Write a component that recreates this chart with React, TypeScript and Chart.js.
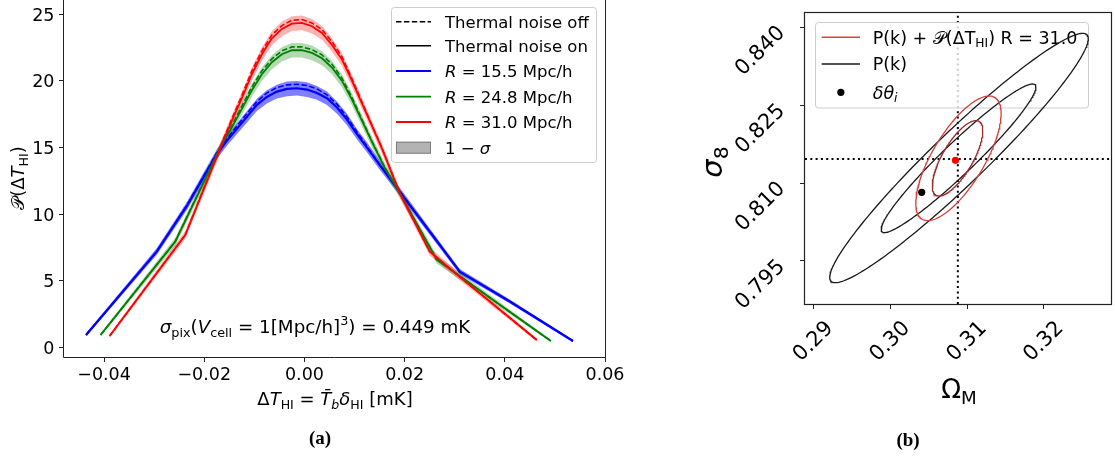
import React, { useEffect, useRef } from "react";
import { Chart, registerables } from "chart.js";

Chart.register(...registerables);

const FAM = '"DejaVu Sans", sans-serif';

// ---------------- Panel (a) data ----------------
const A_X_TICKS = [-0.04, -0.02, 0, 0.02, 0.04, 0.06];
const A_X_TICK_LABELS = ["−0.04", "−0.02", "0.00", "0.02", "0.04", "0.06"];
const A_Y_TICKS = [0, 5, 10, 15, 20, 25];
const A_Y_TICK_LABELS = ["0", "5", "10", "15", "20", "25"];
const A_X_MIN = -0.048;
const A_X_MAX = 0.06;
const A_Y_MIN = -0.7125;
const A_Y_MAX = 26.07;

// R = 15.5 Mpc/h
const R155_X = [-0.0436, -0.0295, -0.0235, -0.0175, -0.0155, -0.0135, -0.0115, -0.0095, -0.0075, -0.0055, -0.0035, -0.0015, 0.0005, 0.0025, 0.0045, 0.0065, 0.0085, 0.0105, 0.0125, 0.015, 0.019, 0.025, 0.031, 0.041, 0.0536];
const R155_ON = [0.94, 7.19, 10.6, 14.5, 15.5, 16.4, 17.3, 18.2, 18.8, 19.2, 19.4, 19.45, 19.35, 19.1, 18.7, 18.0, 17.1, 16.0, 15.0, 13.7, 11.7, 8.7, 5.69, 3.45, 0.49];
const R155_OFF = [0.94, 7.2, 10.65, 14.6, 15.65, 16.6, 17.55, 18.45, 19.1, 19.5, 19.7, 19.75, 19.65, 19.4, 18.95, 18.25, 17.3, 16.15, 15.1, 13.75, 11.75, 8.7, 5.7, 3.45, 0.49];
const R155_SIG = [0.12, 0.25, 0.3, 0.35, 0.38, 0.4, 0.43, 0.46, 0.5, 0.52, 0.55, 0.55, 0.55, 0.52, 0.5, 0.46, 0.43, 0.4, 0.38, 0.35, 0.3, 0.25, 0.2, 0.15, 0.1];

// R = 24.8 Mpc/h
const R248_X = [-0.0407, -0.0258, -0.0165, -0.0145, -0.0125, -0.0105, -0.0085, -0.0065, -0.0045, -0.0025, -0.0005, 0.0015, 0.0035, 0.0055, 0.0075, 0.0095, 0.0115, 0.0135, 0.016, 0.019, 0.0264, 0.039, 0.0492];
const R248_ON = [0.94, 7.94, 15.2, 16.5, 17.9, 19.3, 20.5, 21.4, 22.0, 22.3, 22.3, 22.1, 21.7, 21.0, 20.0, 18.6, 17.0, 15.4, 13.5, 11.6, 6.6, 3.2, 0.49];
const R248_OFF = [0.94, 7.95, 15.3, 16.65, 18.1, 19.55, 20.75, 21.65, 22.25, 22.55, 22.55, 22.35, 21.95, 21.25, 20.2, 18.75, 17.1, 15.45, 13.55, 11.6, 6.6, 3.2, 0.49];
const R248_SIG = [0.12, 0.3, 0.4, 0.42, 0.45, 0.48, 0.5, 0.52, 0.55, 0.55, 0.55, 0.55, 0.52, 0.5, 0.48, 0.45, 0.42, 0.4, 0.38, 0.35, 0.3, 0.2, 0.1];

// R = 31.0 Mpc/h
const R310_X = [-0.0389, -0.0238, -0.0162, -0.0145, -0.0125, -0.0105, -0.0085, -0.0065, -0.0045, -0.0025, -0.0005, 0.0015, 0.0035, 0.0055, 0.0075, 0.0095, 0.0115, 0.0135, 0.0155, 0.019, 0.025, 0.031, 0.0464];
const R310_ON = [0.86, 8.44, 15.5, 17.0, 18.7, 20.5, 22.0, 23.2, 23.9, 24.3, 24.35, 24.1, 23.6, 22.7, 21.6, 20.0, 18.3, 16.6, 14.9, 11.6, 7.2, 5.3, 0.56];
const R310_OFF = [0.86, 8.45, 15.6, 17.15, 18.9, 20.75, 22.25, 23.45, 24.15, 24.55, 24.6, 24.35, 23.85, 22.95, 21.8, 20.15, 18.4, 16.65, 14.95, 11.6, 7.2, 5.3, 0.56];
const R310_SIG = [0.12, 0.3, 0.4, 0.42, 0.45, 0.48, 0.5, 0.52, 0.55, 0.55, 0.55, 0.55, 0.52, 0.5, 0.48, 0.45, 0.42, 0.4, 0.38, 0.35, 0.3, 0.25, 0.12];

const A_LEGEND_LABELS = ["Thermal noise off", "Thermal noise on", "15.5 Mpc/h", "24.8 Mpc/h", "31.0 Mpc/h"];

// ---------------- Panel (b) data ----------------
const B_X_TICKS = [0.29, 0.3, 0.31, 0.32];
const B_X_TICK_LABELS = ["0.29", "0.30", "0.31", "0.32"];
const B_Y_TICKS = [0.795, 0.81, 0.825, 0.84];
const B_Y_TICK_LABELS = ["0.795", "0.810", "0.825", "0.840"];
const B_X_MIN = 0.28889;
const B_X_MAX = 0.32875;
const B_Y_MIN = 0.7867;
const B_Y_MAX = 0.84274;

const FIDUCIAL_OM = 0.3088;
const FIDUCIAL_S8 = 0.8146;
// Forecast contours: P(k) 2σ, P(k) 1σ, P(k)+𝒫 2σ, P(k)+𝒫 1σ
const ELL_CX = [0.30895, 0.30889, 0.30888, 0.30876];
const ELL_CY = [0.81481, 0.81476, 0.81476, 0.81476];
const ELL_HALF_W = [0.01684, 0.01008, 0.00556, 0.00329];
const ELL_HALF_H = [0.02401, 0.01431, 0.012, 0.00726];
const ELL_RHO = [0.957, 0.957, 0.72, 0.73];
const POINT_COMBINED = [0.30849, 0.81437];
const POINT_SHIFT = [0.30409, 0.80821];

// ---------------- helpers ----------------
type Seg = { t: string; it?: boolean; sub?: boolean; sup?: boolean; fam?: string; bold?: boolean };

function segFont(s: Seg, size: number, fam: string) {
  const sz = s.sub || s.sup ? size * 0.7 : size;
  return `${s.it ? "italic " : ""}${s.bold ? "bold " : ""}${sz}px ${s.fam || fam}`;
}
function richWidth(ctx: CanvasRenderingContext2D, segs: Seg[], size: number, fam: string) {
  let w = 0;
  for (const s of segs) {
    ctx.font = segFont(s, size, fam);
    w += ctx.measureText(s.t).width;
  }
  return w;
}
function drawRich(
  ctx: CanvasRenderingContext2D,
  segs: Seg[],
  x: number,
  y: number,
  size: number,
  align: "left" | "center" | "right",
  color = "#000",
  fam = FAM
) {
  const w = richWidth(ctx, segs, size, fam);
  let cx = align === "left" ? x : align === "center" ? x - w / 2 : x - w;
  ctx.textAlign = "left";
  ctx.textBaseline = "alphabetic";
  ctx.fillStyle = color;
  for (const s of segs) {
    ctx.font = segFont(s, size, fam);
    const dy = s.sub ? size * 0.22 : s.sup ? -size * 0.42 : 0;
    ctx.fillText(s.t, cx, y + dy);
    cx += ctx.measureText(s.t).width;
  }
}
function roundBox(ctx: CanvasRenderingContext2D, x0: number, y0: number, x1: number, y1: number, r: number) {
  ctx.beginPath();
  ctx.moveTo(x0 + r, y0);
  ctx.lineTo(x1 - r, y0);
  ctx.quadraticCurveTo(x1, y0, x1, y0 + r);
  ctx.lineTo(x1, y1 - r);
  ctx.quadraticCurveTo(x1, y1, x1 - r, y1);
  ctx.lineTo(x0 + r, y1);
  ctx.quadraticCurveTo(x0, y1, x0, y1 - r);
  ctx.lineTo(x0, y0 + r);
  ctx.quadraticCurveTo(x0, y0, x0 + r, y0);
  ctx.closePath();
}
function zip(xs: number[], ys: number[]) {
  return xs.map((x, i) => ({ x, y: ys[i] }));
}
function band(xs: number[], ys: number[], sig: number[], sign: number) {
  return xs.map((x, i) => ({ x, y: ys[i] + sign * sig[i] }));
}

// ---------------- Panel (a) ----------------
const SERIES_A = [
  { x: R155_X, on: R155_ON, off: R155_OFF, sig: R155_SIG, color: "#0000ff", fillC: "rgba(0,0,255,0.5)", lw: 2.2 },
  { x: R248_X, on: R248_ON, off: R248_OFF, sig: R248_SIG, color: "#008000", fillC: "rgba(0,128,0,0.3)", lw: 1.8 },
  { x: R310_X, on: R310_ON, off: R310_OFF, sig: R310_SIG, color: "#ff0000", fillC: "rgba(255,0,0,0.3)", lw: 1.8 },
];

function PanelA() {
  const ref = useRef<HTMLCanvasElement>(null);
  useEffect(() => {
    const datasets: any[] = [];
    SERIES_A.forEach((s, k) => {
      datasets.push({
        data: band(s.x, s.on, s.sig, 1),
        fill: "+1",
        backgroundColor: s.fillC,
        borderWidth: 0,
        pointRadius: 0,
        order: 100 - k * 2,
      });
      datasets.push({
        data: band(s.x, s.on, s.sig, -1),
        fill: false,
        borderWidth: 0,
        pointRadius: 0,
        order: 99 - k * 2,
      });
      datasets.push({
        data: zip(s.x, s.off),
        borderColor: s.color,
        borderWidth: 1.6,
        borderDash: [5.5, 2.4],
        pointRadius: 0,
        fill: false,
        order: 50 - k * 2,
      });
      datasets.push({
        data: zip(s.x, s.on),
        borderColor: s.color,
        borderWidth: s.lw,
        pointRadius: 0,
        fill: false,
        order: 49 - k * 2,
      });
    });

    const decor = {
      id: "decorA",
      afterDraw(chart: any) {
        const ctx: CanvasRenderingContext2D = chart.ctx;
        const { left, right, top, bottom } = chart.chartArea;
        const xs = chart.scales.x;
        const ys = chart.scales.y;
        ctx.save();
        ctx.strokeStyle = "#222";
        ctx.lineWidth = 1;
        ctx.beginPath();
        ctx.moveTo(left - 0.5, top);
        ctx.lineTo(left - 0.5, bottom + 0.5);
        ctx.lineTo(right + 0.5, bottom + 0.5);
        ctx.lineTo(right + 0.5, top);
        ctx.stroke();

        // tick labels
        ctx.fillStyle = "#000";
        ctx.font = `17.5px ${FAM}`;
        ctx.textAlign = "right";
        ctx.textBaseline = "alphabetic";
        A_Y_TICKS.forEach((v, i) => {
          ctx.fillText(A_Y_TICK_LABELS[i], 54.5, ys.getPixelForValue(v) + 6.3);
        });
        ctx.textAlign = "center";
        A_X_TICKS.forEach((v, i) => {
          ctx.fillText(A_X_TICK_LABELS[i], xs.getPixelForValue(v), 380);
        });

        // axis labels
        drawRich(
          ctx,
          [{ t: "Δ" }, { t: "T", it: true }, { t: "HI", sub: true }, { t: " = " }, { t: "T\u0304", it: true }, { t: "b", it: true, sub: true }, { t: "δ", it: true }, { t: "HI", sub: true }, { t: " [mK]" }],
          335,
          405,
          18,
          "center"
        );
        ctx.save();
        ctx.translate(24, 178);
        ctx.rotate(-Math.PI / 2);
        drawRich(ctx, [{ t: "𝒫" }, { t: "(Δ" }, { t: "T", it: true }, { t: "HI", sub: true }, { t: ")" }], 0, 0, 18, "center");
        ctx.restore();

        // annotation
        drawRich(
          ctx,
          [{ t: "σ", it: true }, { t: "pix", sub: true }, { t: "(" }, { t: "V", it: true }, { t: "cell", sub: true }, { t: " = 1[Mpc/h]" }, { t: "3", sup: true }, { t: ") = 0.449 mK" }],
          315,
          333,
          18.3,
          "center"
        );

        // legend
        roundBox(ctx, 391.5, 7.5, 596.5, 162.5, 3);
        ctx.fillStyle = "rgba(255,255,255,0.8)";
        ctx.fill();
        ctx.strokeStyle = "#cccccc";
        ctx.lineWidth = 1;
        ctx.stroke();
        const rows = [21.7, 45.7, 71, 96.7, 122, 147.7];
        const hx0 = 396;
        const hx1 = 431;
        const tx = 445;
        const fs = 16.5;
        ctx.strokeStyle = "#000";
        ctx.lineWidth = 1.6;
        ctx.setLineDash([5.5, 2.4]);
        ctx.beginPath();
        ctx.moveTo(hx0, rows[0]);
        ctx.lineTo(hx1, rows[0]);
        ctx.stroke();
        ctx.setLineDash([]);
        ctx.beginPath();
        ctx.moveTo(hx0, rows[1]);
        ctx.lineTo(hx1, rows[1]);
        ctx.stroke();
        drawRich(ctx, [{ t: A_LEGEND_LABELS[0] }], tx, rows[0] + 6, fs, "left");
        drawRich(ctx, [{ t: A_LEGEND_LABELS[1] }], tx, rows[1] + 6, fs, "left");
        SERIES_A.forEach((s, k) => {
          const y = rows[2 + k];
          ctx.strokeStyle = s.color;
          ctx.lineWidth = s.lw;
          ctx.beginPath();
          ctx.moveTo(hx0, y);
          ctx.lineTo(hx1, y);
          ctx.stroke();
          drawRich(ctx, [{ t: "R", it: true }, { t: " = " + A_LEGEND_LABELS[2 + k] }], tx, y + 6, fs, "left");
        });
        ctx.fillStyle = "rgba(128,128,128,0.6)";
        ctx.fillRect(hx0, rows[5] - 6, hx1 - hx0, 12);
        ctx.strokeStyle = "rgba(100,100,100,0.7)";
        ctx.lineWidth = 1;
        ctx.strokeRect(hx0 + 0.5, rows[5] - 5.5, hx1 - hx0 - 1, 11);
        drawRich(ctx, [{ t: "1 − " }, { t: "σ", it: true }], tx, rows[5] + 6, fs, "left");

        // caption
        drawRich(ctx, [{ t: "(a)", bold: true }], 320, 444, 19, "center", "#000", '"Liberation Serif", serif');
        ctx.restore();
      },
    };

    const chart = new Chart(ref.current as HTMLCanvasElement, {
      type: "line",
      data: { datasets },
      options: {
        responsive: false,
        maintainAspectRatio: false,
        devicePixelRatio: 1,
        animation: false,
        events: [],
        layout: { padding: { left: 0, right: 35, top: 0, bottom: 0 } },
        plugins: { legend: { display: false }, tooltip: { enabled: false } },
        elements: { line: { tension: 0 } },
        scales: {
          x: {
            type: "linear",
            min: A_X_MIN,
            max: A_X_MAX,
            ticks: { display: false },
            grid: { display: true, drawOnChartArea: false, drawTicks: true, tickLength: 5, color: "#222", lineWidth: 1 },
            border: { display: false },
            afterBuildTicks: (s: any) => {
              s.ticks = A_X_TICKS.map((v) => ({ value: v }));
            },
            afterFit: (s: any) => {
              s.height = 103;
              s.paddingLeft = 0;
              s.paddingRight = 0;
            },
          },
          y: {
            type: "linear",
            min: A_Y_MIN,
            max: A_Y_MAX,
            ticks: { display: false },
            grid: { display: true, drawOnChartArea: false, drawTicks: true, tickLength: 5, color: "#222", lineWidth: 1 },
            border: { display: false },
            afterBuildTicks: (s: any) => {
              s.ticks = A_Y_TICKS.map((v) => ({ value: v }));
            },
            afterFit: (s: any) => {
              s.width = 64;
              s.paddingTop = 0;
              s.paddingBottom = 0;
            },
          },
        },
      } as any,
      plugins: [decor],
    });
    return () => chart.destroy();
  }, []);
  return <canvas ref={ref} width={640} height={460} style={{ position: "absolute", left: 0, top: 0, width: 640, height: 460 }} />;
}

// ---------------- Panel (b) ----------------
const ELL_STYLE = [
  { color: "#1a1a1a", lw: 1.3 },
  { color: "#1a1a1a", lw: 1.3 },
  { color: "#d6403c", lw: 1.3 },
  { color: "#9a2b2b", lw: 1.3 },
];

function ellipsePoints(i: number) {
  const pts: { x: number; y: number }[] = [];
  const n = 240;
  const s = Math.sqrt(1 - ELL_RHO[i] * ELL_RHO[i]);
  for (let k = 0; k <= n; k++) {
    const t = (2 * Math.PI * k) / n;
    pts.push({
      x: ELL_CX[i] + ELL_HALF_W[i] * Math.cos(t),
      y: ELL_CY[i] + ELL_HALF_H[i] * (ELL_RHO[i] * Math.cos(t) + s * Math.sin(t)),
    });
  }
  return pts;
}

function PanelB() {
  const ref = useRef<HTMLCanvasElement>(null);
  useEffect(() => {
    const datasets: any[] = [
      {
        label: "vline",
        data: [
          { x: FIDUCIAL_OM, y: B_Y_MIN },
          { x: FIDUCIAL_OM, y: B_Y_MAX },
        ],
        showLine: true,
        borderColor: "#000",
        borderWidth: 2,
        borderDash: [2, 3.3],
        pointRadius: 0,
        order: 20,
      },
      {
        label: "hline",
        data: [
          { x: B_X_MIN, y: FIDUCIAL_S8 },
          { x: B_X_MAX, y: FIDUCIAL_S8 },
        ],
        showLine: true,
        borderColor: "#000",
        borderWidth: 2,
        borderDash: [2, 3.3],
        pointRadius: 0,
        order: 19,
      },
    ];
    ELL_CX.forEach((_, i) => {
      datasets.push({
        label: "ell" + i,
        data: ellipsePoints(i),
        showLine: true,
        borderColor: ELL_STYLE[i].color,
        borderWidth: ELL_STYLE[i].lw,
        pointRadius: 0,
        order: 10 - i,
      });
    });
    datasets.push({
      label: "shift",
      data: [{ x: POINT_SHIFT[0], y: POINT_SHIFT[1] }],
      pointRadius: 3.6,
      backgroundColor: "#000",
      borderWidth: 0,
      order: 2,
    });
    datasets.push({
      label: "combined",
      data: [{ x: POINT_COMBINED[0], y: POINT_COMBINED[1] }],
      pointRadius: 3.6,
      backgroundColor: "#ff0000",
      borderWidth: 0,
      order: 1,
    });

    const decor = {
      id: "decorB",
      afterDatasetDraw(chart: any, args: any) {
        if (chart.data.datasets[args.index].label !== "hline") return;
        const ctx: CanvasRenderingContext2D = chart.ctx;
        ctx.save();
        const ox = -700;
        roundBox(ctx, 815.5 + ox, 22.5, 1088.5 + ox, 108, 3);
        ctx.fillStyle = "rgba(255,255,255,0.8)";
        ctx.fill();
        ctx.strokeStyle = "#cccccc";
        ctx.lineWidth = 1;
        ctx.stroke();
        const rows = [37.3, 64, 92.3];
        const hx0 = 821.7 + ox;
        const hx1 = 860 + ox;
        const tx = 872.7 + ox;
        const fs = 17.5;
        ctx.strokeStyle = ELL_STYLE[2].color;
        ctx.lineWidth = 1.6;
        ctx.beginPath();
        ctx.moveTo(hx0, rows[0]);
        ctx.lineTo(hx1, rows[0]);
        ctx.stroke();
        ctx.strokeStyle = "#1a1a1a";
        ctx.beginPath();
        ctx.moveTo(hx0, rows[1]);
        ctx.lineTo(hx1, rows[1]);
        ctx.stroke();
        ctx.fillStyle = "#000";
        ctx.beginPath();
        ctx.arc((hx0 + hx1) / 2, rows[2], 3.6, 0, Math.PI * 2);
        ctx.fill();
        drawRich(
          ctx,
          [{ t: "P(k) + " }, { t: "𝒫" }, { t: "(ΔT" }, { t: "HI", sub: true }, { t: ") R = 31.0" }],
          tx,
          rows[0] + 6.3,
          fs,
          "left"
        );
        drawRich(ctx, [{ t: "P(k)" }], tx, rows[1] + 6.3, fs, "left");
        drawRich(ctx, [{ t: "δθ", it: true }, { t: "i", it: true, sub: true }], tx, rows[2] + 6.3, fs, "left");
        ctx.restore();
      },
      afterDraw(chart: any) {
        const ctx: CanvasRenderingContext2D = chart.ctx;
        const { left, right, top, bottom } = chart.chartArea;
        const xs = chart.scales.x;
        const ys = chart.scales.y;
        ctx.save();
        ctx.strokeStyle = "#222";
        ctx.lineWidth = 1.2;
        ctx.strokeRect(left - 0.5, top - 0.5, right - left + 1, bottom - top + 1);

        ctx.fillStyle = "#000";
        ctx.font = `21px ${FAM}`;
        ctx.textAlign = "center";
        ctx.textBaseline = "middle";
        B_Y_TICKS.forEach((v, i) => {
          ctx.save();
          ctx.translate(left - 44.5, ys.getPixelForValue(v) + 24);
          ctx.rotate(-Math.PI / 4);
          ctx.fillText(B_Y_TICK_LABELS[i], 0, 0);
          ctx.restore();
        });
        B_X_TICKS.forEach((v, i) => {
          ctx.save();
          ctx.translate(xs.getPixelForValue(v), bottom + 37.7);
          ctx.rotate(-Math.PI / 4);
          ctx.fillText(B_X_TICK_LABELS[i], 0, 0);
          ctx.restore();
        });

        drawRich(ctx, [{ t: "Ω" }, { t: "M", sub: true }], 259, 398, 26, "center");
        ctx.save();
        ctx.translate(22, 162);
        ctx.rotate(-Math.PI / 2);
        drawRich(ctx, [{ t: "σ", it: true }, { t: "8", sub: true }], 0, 0, 29, "center");
        ctx.restore();

        drawRich(ctx, [{ t: "(b)", bold: true }], 208, 446, 19, "center", "#000", '"Liberation Serif", serif');
        ctx.restore();
      },
    };

    const chart = new Chart(ref.current as HTMLCanvasElement, {
      type: "scatter",
      data: { datasets },
      options: {
        responsive: false,
        maintainAspectRatio: false,
        devicePixelRatio: 1,
        animation: false,
        events: [],
        layout: { padding: { left: 0, right: 1.5, top: 13, bottom: 0 } },
        plugins: { legend: { display: false }, tooltip: { enabled: false } },
        elements: { line: { tension: 0 } },
        scales: {
          x: {
            type: "linear",
            min: B_X_MIN,
            max: B_X_MAX,
            ticks: { display: false },
            grid: { display: true, drawOnChartArea: false, drawTicks: true, tickLength: 5, color: "#222", lineWidth: 1 },
            border: { display: false },
            afterBuildTicks: (s: any) => {
              s.ticks = B_X_TICKS.map((v) => ({ value: v }));
            },
            afterFit: (s: any) => {
              s.height = 156;
              s.paddingLeft = 0;
              s.paddingRight = 0;
            },
          },
          y: {
            type: "linear",
            min: B_Y_MIN,
            max: B_Y_MAX,
            ticks: { display: false },
            grid: { display: true, drawOnChartArea: false, drawTicks: true, tickLength: 5, color: "#222", lineWidth: 1 },
            border: { display: false },
            afterBuildTicks: (s: any) => {
              s.ticks = B_Y_TICKS.map((v) => ({ value: v }));
            },
            afterFit: (s: any) => {
              s.width = 105;
              s.paddingTop = 0;
              s.paddingBottom = 0;
            },
          },
        },
      } as any,
      plugins: [decor],
    });
    return () => chart.destroy();
  }, []);
  return <canvas ref={ref} width={415} height={460} style={{ position: "absolute", left: 700, top: 0, width: 415, height: 460 }} />;
}

export default function App() {
  return (
    <div style={{ position: "fixed", left: 0, top: 0, width: 1115, height: 460, background: "#fff", overflow: "hidden" }}>
      <PanelA />
      <PanelB />
    </div>
  );
}
